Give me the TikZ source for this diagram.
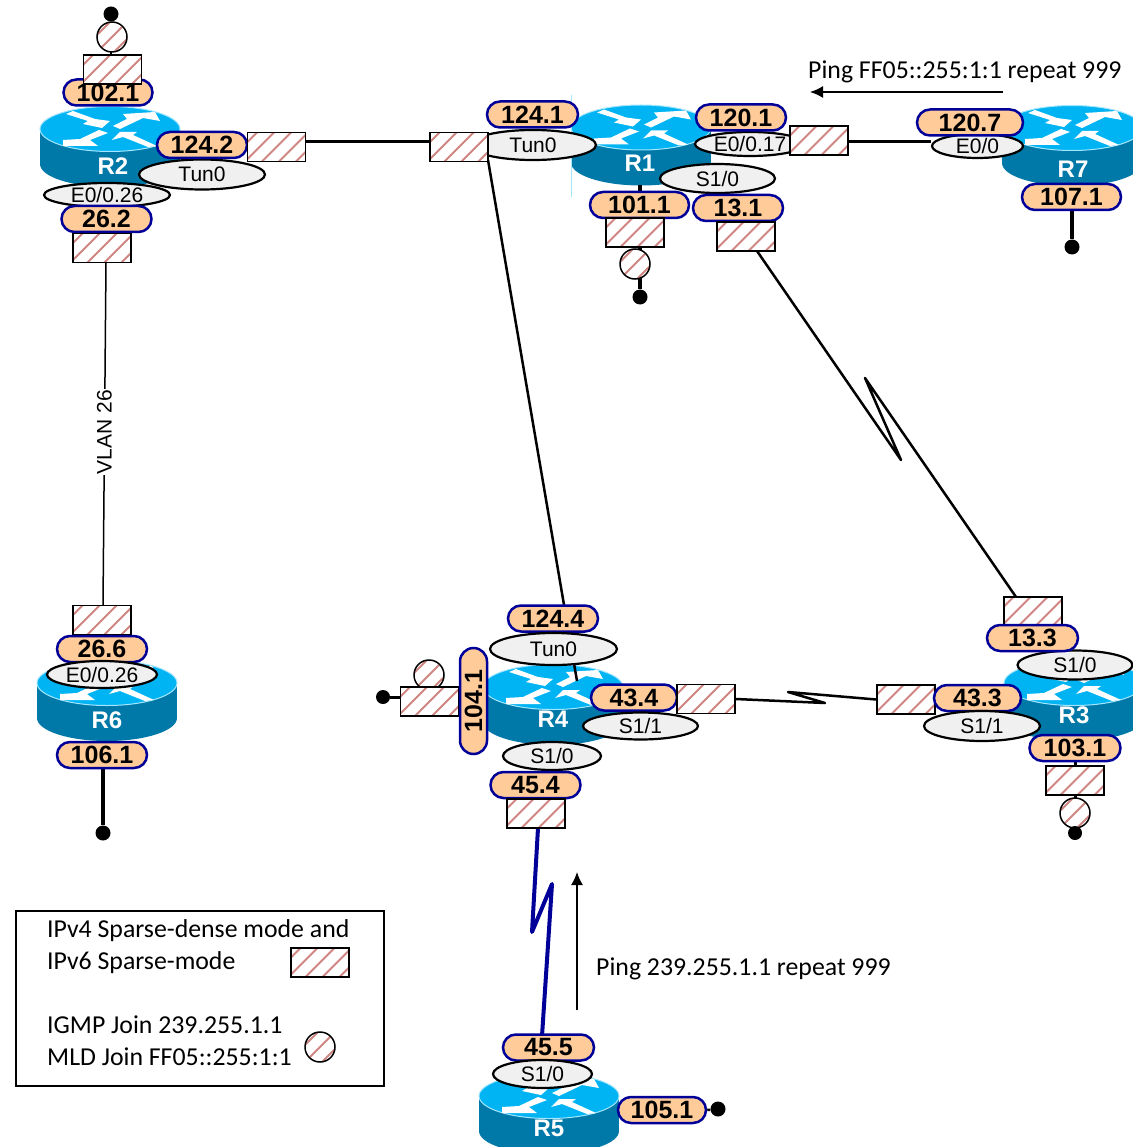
\documentclass[tikz,border=0pt]{standalone}
\usepackage{fontspec}
\setmainfont{Liberation Sans}
\newfontfamily\calfont{Carlito}
\usetikzlibrary{shapes.geometric,shapes.misc,arrows.meta}
\definecolor{rtop}{HTML}{00B4F4}
\definecolor{rside}{HTML}{0079A8}
\definecolor{rrim}{HTML}{A5E6FF}
\definecolor{pillfill}{HTML}{FFCC99}
\definecolor{pilledge}{HTML}{000099}
\definecolor{ellfill}{HTML}{F0F0F0}
\definecolor{stripe}{HTML}{CF8682}
\pgfdeclarelayer{rt}
\pgfdeclarelayer{ln}
\pgfsetlayers{rt,ln,main}
\tikzset{
  x=1pt,y=-1pt,
  stripes/.style={path picture={
    \foreach \i in {-68,-51,...,68}
      \draw[stripe,line width=2pt,shift={(path picture bounding box.center)}] (\i-40,40) -- (\i+40,-40);}},
  hbox/.style={rectangle,draw=black,line width=1.5pt,fill=white,minimum width=58pt,minimum height=29pt,inner sep=0,stripes},
  jcirc/.style={circle,draw=black,line width=1.5pt,fill=white,minimum size=30pt,inner sep=0,stripes},
  pill/.style={rounded rectangle,draw=pilledge,line width=2.5pt,fill=pillfill,minimum width=90pt,minimum height=26pt,inner sep=0,font=\fontsize{25}{25}\selectfont\bfseries},
  ifc/.style={ellipse,draw=black,line width=2.2pt,fill=ellfill,minimum width=126pt,minimum height=30pt,inner sep=0,font=\fontsize{21}{22}\selectfont},
  dot/.style={circle,fill=black,minimum size=15pt,inner sep=0},
  rlabel/.style={text=white,inner sep=0,font=\fontsize{24}{25}\selectfont\bfseries},
  wire/.style={draw=black,line width=2.5pt,line join=round},
  tail/.style={draw=black,line width=4pt},
  serialblue/.style={draw=pilledge,line width=4pt,line join=round},
  note/.style={inner sep=0,anchor=west,font=\calfont\fontsize{25.8}{27}\selectfont},
  pingarrow/.style={draw=black,line width=1.5pt,-{Latex[length=13pt,width=12pt]}},
}
\newcommand{\routerbody}[2]{%
  \begin{pgfonlayer}{rt}
  \begin{scope}[shift={(#1,#2)}]
    \fill[rside] (0,35) ellipse [x radius=70,y radius=23];
    \fill[rside] (-70,0) rectangle (70,35);
    \filldraw[fill=rtop,draw=rrim,line width=1pt] (0,0) ellipse [x radius=70,y radius=22.5];
    \fill[white] (-44,-15) -- (-37,-18) -- (-15,-10) -- (0,-8) -- (-8,-1) -- (-27,-5) -- (-22,-8) -- cycle;
    \fill[white] (3,-3) -- (17,-10) -- (13,-15) -- (45,-17) -- (50,-8) -- (33,-11) -- (10,0) -- cycle;
    \fill[white] (-11,1) -- (-2,4) -- (-20,11) -- (-12,17) -- (-47,17) -- (-47,11) -- (-30,10) -- cycle;
    \fill[white] (10,3) -- (27,3) -- (23,6) -- (47,17) -- (38,18) -- (13,8) -- (2,11) -- cycle;
  \end{scope}
  \end{pgfonlayer}}
\begin{document}
\begin{tikzpicture}
\useasboundingbox (0,0) rectangle (1132,1147);
\begin{pgfonlayer}{rt}
  \fill[white] (0,0) rectangle (1132,1147);
\end{pgfonlayer}
% routers
\routerbody{110}{129}
\routerbody{641}{127.5}
\routerbody{1072}{128}
\routerbody{107}{683}
\routerbody{553}{687}
\routerbody{1074}{683}
\routerbody{549}{1096}
\begin{pgfonlayer}{rt}
  \draw[rrim,line width=1pt] (571,95) -- (571,197);
\end{pgfonlayer}
\node[rlabel] (R2) at (113,166) {R2};
\node[rlabel] (R1) at (640,163) {R1};
\node[rlabel] (R7) at (1073,169) {R7};
\node[rlabel] (R6) at (107,720) {R6};
\node[rlabel] (R4) at (553,719) {R4};
\node[rlabel] (R3) at (1074,715) {R3};
\node[rlabel] (R5) at (549,1128) {R5};
% R2
\node[pill,minimum width=89pt] (p1021) at (108,92.5) {102.1};
\node[hbox] (b1021) at (112.5,69.5) {};
\node[jcirc] (c2) at (112,37) {};
\node[dot] (d2) at (111,14) {};
\node[ifc] (t2) at (202,174.5) {Tun0};
\node[pill] (p1242) at (202,145) {124.2};
\node[hbox] (b1242) at (276.5,147) {};
\node[ifc,minimum height=24pt] (e26) at (107,195) {E0/0.26};
\node[pill] (p262) at (106.5,219) {26.2};
\node[hbox] (b262) at (102,248) {};
% R6
\node[hbox] (b266) at (102,620) {};
\node[pill] (p266) at (102,649) {26.6};
\node[ifc,minimum width=110pt,minimum height=27pt] (e66) at (102,674.5) {E0/0.26};
\node[pill] (p1061) at (102,755) {106.1};
\node[dot] (d6) at (103,833) {};
% R1
\node[ifc] (t1) at (533,145) {Tun0};
\node[hbox] (b1241) at (459,147) {};
\node[pill,minimum width=91pt] (p1241) at (532.5,114.5) {124.1};
\node[ifc,minimum width=110pt,minimum height=24pt] (e17) at (750,144) {E0/0.17};
\node[pill] (p1201) at (741,117.5) {120.1};
\node[hbox] (b1201) at (819,140.5) {};
\node[ifc,minimum width=115pt,minimum height=29pt] (s1) at (717.5,178.5) {S1/0};
\node[pill,minimum width=99pt] (p1011) at (639.5,205) {101.1};
\node[pill] (p131) at (738,208) {13.1};
\node[hbox] (b1011) at (635,232.5) {};
\node[hbox] (b131) at (746,236.5) {};
\node[jcirc] (c1) at (635,264) {};
\node[dot] (d1) at (640,297) {};
% R7
\node[ifc,minimum width=91pt,minimum height=24pt] (e7) at (977.5,146) {E0/0};
\node[pill,minimum width=106pt] (p1207) at (970,122.5) {120.7};
\node[pill,minimum width=99pt] (p1071) at (1071.5,197) {107.1};
\node[dot] (d7) at (1072,247) {};
% R4
\node[pill] (p1244) at (553,618.5) {124.4};
\node[ifc,minimum width=127pt,minimum height=32pt] (t4) at (553.5,649) {Tun0};
\node[jcirc] (c4) at (429,675) {};
\node[hbox] (b1041) at (429.5,701.5) {};
\node[dot,minimum size=14pt] (d4) at (383,697) {};
\node[pill,rotate=90,minimum width=106pt,minimum height=27pt] (p1041) at (473.5,701) {104.1};
\node[pill,minimum width=86pt] (p434) at (634,697.5) {43.4};
\node[hbox] (b434) at (706,699) {};
\node[ifc,minimum width=115pt,minimum height=27pt] (s41) at (640.5,726) {S1/1};
\node[ifc,minimum width=98pt,minimum height=28pt] (s40) at (552,756) {S1/0};
\node[pill] (p454) at (535.5,785) {45.4};
\node[hbox] (b454) at (536,813.5) {};
% R3
\node[hbox] (b433) at (906,699.5) {};
\node[pill,minimum width=87pt] (p433) at (977.5,698) {43.3};
\node[ifc,minimum width=116pt,minimum height=30pt] (s31) at (982,726) {S1/1};
\node[ifc,minimum width=115pt,minimum height=29pt] (s30) at (1075,665) {S1/0};
\node[hbox] (b133) at (1033,611.5) {};
\node[pill,minimum width=91pt] (p133) at (1032.5,638) {13.3};
\node[pill,minimum width=91pt] (p1031) at (1075,748) {103.1};
\node[hbox] (b1031) at (1075,780.5) {};
\node[jcirc] (c3) at (1075,813) {};
\node[dot,minimum size=14pt] (d3) at (1075,833) {};
% R5
\node[pill,minimum width=91pt] (p455) at (548.5,1047.5) {45.5};
\node[ifc,minimum width=99pt,minimum height=28pt] (s5) at (542.5,1074) {S1/0};
\node[pill,minimum width=88pt] (p1051) at (662,1110) {105.1};
\node[dot] (d5) at (718,1109) {};
% notes
\node[note] (ping6) at (808,72) {Ping FF05::255:1:1 repeat 999};
\node[note] (ping4) at (596,969) {Ping 239.255.1.1 repeat 999};
\coordinate (a6s) at (1003,92);
\coordinate (a6e) at (810,92);
\coordinate (a4s) at (577,1010);
\coordinate (a4e) at (577,872);
\draw[pingarrow] (a6s) -- (a6e);
\draw[pingarrow] (a4s) -- (a4e);
% legend
\node[draw=black,line width=1.5pt,minimum width=368pt,minimum height=175pt,inner sep=0] (legend) at (200,998.5) {};
\node[note] (l1) at (47,931) {IPv4 Sparse-dense mode and};
\node[note] (l2) at (47,963) {IPv6 Sparse-mode};
\node[note] (l3) at (47,1025) {IGMP Join 239.255.1.1};
\node[note] (l4) at (47,1057) {MLD Join FF05::255:1:1};
\node[hbox] (lb) at (320,962.5) {};
\node[jcirc] (lc) at (320,1047) {};
% connector points
\coordinate (z1a) at (901,460);
\coordinate (z1b) at (865,378);
\coordinate (b131o) at (757,251);
\coordinate (b133o) at (1016,597);
\coordinate (z2a) at (825,703);
\coordinate (z2b) at (788,692);
\coordinate (z3s) at (538,828);
\coordinate (z3a) at (532,932);
\coordinate (z3b) at (552,884);
\coordinate (z3e) at (542,1036);
\coordinate (tunA) at (488,160);
\coordinate (tunB) at (577,681);
\coordinate (vs) at (106,263);
\coordinate (ve) at (103,605);
\begin{pgfonlayer}{ln}
  \draw[wire,line width=3pt] (b1242.east |- 0,142) -- (b1241.west |- 0,142);
  \draw[wire,line width=3pt] (b1201.east |- 0,142) -- (e7.west |- 0,142);
  \draw[wire] (tunA) -- (tunB);
  \draw[wire] (b131o) -- (z1a) -- (z1b) -- (b133o);
  \draw[wire] (b434.east) -- (z2a) -- (z2b) -- (b433.west);
  \draw[serialblue] (z3s) -- (z3a) -- (z3b) -- (z3e);
  \draw[draw=black,line width=1.5pt] (vs) -- (ve)
    node[pos=0.495,fill=white,inner sep=1pt,font=\fontsize{21}{22}\selectfont,rotate=90] (vlan) {VLAN 26};
  \draw[tail] (p1061.south -| d6) -- (d6);
  \draw[tail] (p1071.south -| d7) -- (d7);
  \draw[tail] (640,185) -- (d1);
  \draw[wire] (d2) -- (b1021.north -| d2);
  \draw[wire,line width=3pt] (d4) -- (b1041.west |- d4);
  \draw[wire,line width=3pt] (p1031.south -| d3) -- (d3);
  \draw[wire] (p1051.east) -- (d5);
\end{pgfonlayer}
\end{tikzpicture}
\end{document}
